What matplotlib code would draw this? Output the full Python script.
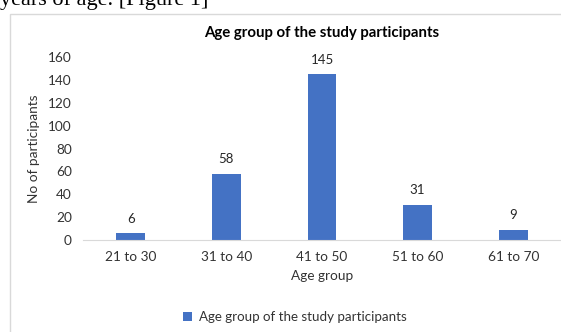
import matplotlib
matplotlib.use("Agg")
import matplotlib.pyplot as plt
from matplotlib.patches import Rectangle

# data
grupos = ["21 to 30", "31 to 40", "41 to 50", "51 to 60", "61 to 70"]
participantes = [6, 58, 145, 31, 9]
yticks = [0, 20, 40, 60, 80, 100, 120, 140, 160]

plt.rcParams['font.family'] = ['Lato', 'DejaVu Sans']

fig = plt.figure(figsize=(5.61, 3.32), dpi=100)

# texto cortado do documento por cima
fig.text(0.0, 1 - 5 / 332, "years of age. [Figure 1]", family='Liberation Serif',
         fontsize=16, va='baseline', ha='left', color='black')

# moldura do grafico
fig.patches.append(Rectangle((10 / 561, -0.05), 1.0, 1 - 14 / 332 + 0.05,
                             transform=fig.transFigure, fill=False,
                             edgecolor='#d9d9d9', linewidth=1))

ax = fig.add_axes([83 / 561, 1 - 240 / 332, 1 - 83 / 561, (240 - 57) / 332])
x = range(len(grupos))
barras = ax.bar(x, participantes, width=0.3, color='#4472C4', label="Age group of the study participants")
for b, v in zip(barras, participantes):
    ax.annotate(str(v), (b.get_x() + b.get_width() / 2, v), xytext=(0, 6),
                textcoords='offset points', ha='center', va='bottom', fontsize=9.5, color='#262626')

ax.set_xlim(-0.5, 4.5)
ax.set_ylim(0, 160)
ax.set_xticks(list(x))
ax.set_xticklabels(grupos)
ax.set_yticks(yticks)
ax.tick_params(length=0, labelsize=9.8, colors='#333333', pad=8)
for s in ['top', 'right', 'left']:
    ax.spines[s].set_visible(False)
ax.spines['bottom'].set_color('#d9d9d9')
ax.set_xlabel("Age group", fontsize=9.8, color='#333333', labelpad=5)
ax.set_ylabel("No of participants", fontsize=9.8, color='#333333', labelpad=6)
ax.set_title("Age group of the study participants", fontsize=10.8, fontweight='bold',
             color='black', pad=0, y=1 + 20 / 183)

fig.legend(loc='center', bbox_to_anchor=(295 / 561, 1 - 317 / 332), frameon=False,
           fontsize=9.6, handlelength=0.7, handleheight=0.7, handletextpad=0.5,
           labelcolor='#333333')

fig.savefig("out.png", dpi=100)
